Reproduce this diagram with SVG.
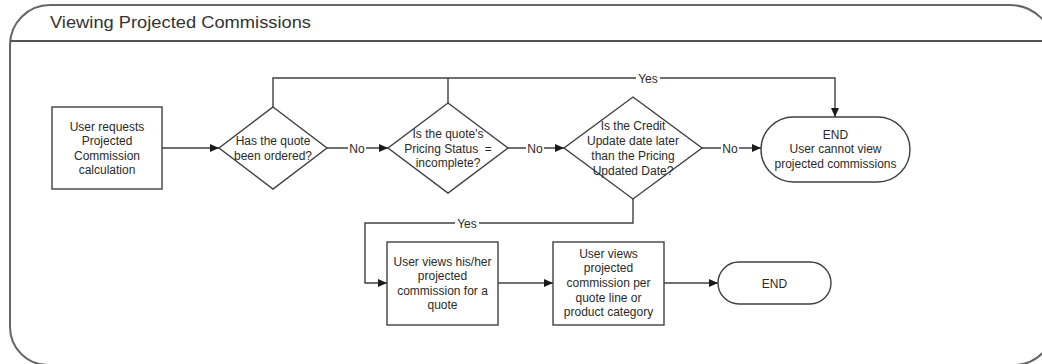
<svg xmlns="http://www.w3.org/2000/svg" width="1042" height="364" viewBox="0 0 1042 364">
<style>
.frame{fill:none;stroke:#666;stroke-width:2}
.shape{fill:#fff;stroke:#404040;stroke-width:1.4}
.conn{fill:none;stroke:#404040;stroke-width:1.4}
text{font-family:"Liberation Sans",Arial,sans-serif;font-size:12px;fill:#2a2a2a;text-anchor:middle}
.title{font-size:17px;text-anchor:start;fill:#333}
.lbl{fill:#fff;stroke:none}
</style>
<defs>
<marker id="arr" markerUnits="userSpaceOnUse" markerWidth="9" markerHeight="8" refX="9" refY="4" orient="auto">
<path d="M0,0 L9,4 L0,8 Z" fill="#1a1a1a"/>
</marker>
</defs>
<rect width="1042" height="364" fill="#fff"/>
<g id="frame">
<path class="frame" d="M10,45 A40,40 0 0 1 50,5 L1010,5 A44,44 0 0 1 1054,49 L1054,325 A40,40 0 0 1 1014,365 L48,365 A38,38 0 0 1 10,327 Z"/>
<line x1="10" y1="41" x2="1042" y2="41" stroke="#555" stroke-width="2"/>
<text class="title" x="50" y="28" textLength="261" lengthAdjust="spacingAndGlyphs">Viewing Projected Commissions</text>
</g>
<g id="connectors">
<path class="conn" d="M162,148 H219" marker-end="url(#arr)"/>
<path class="conn" d="M327,148 H388" marker-end="url(#arr)"/>
<path class="conn" d="M508,148 H564" marker-end="url(#arr)"/>
<path class="conn" d="M702,148 H761" marker-end="url(#arr)"/>
<path class="conn" d="M273,107 V78 H835 V117" marker-end="url(#arr)"/>
<path class="conn" d="M448,103 V78"/>
<path class="conn" d="M633,199 V223 H365 V283 H387" marker-end="url(#arr)"/>
<path class="conn" d="M498,283 H553" marker-end="url(#arr)"/>
<path class="conn" d="M664,283 H718" marker-end="url(#arr)"/>
<rect class="lbl" x="348" y="141" width="18" height="14"/>
<text x="357" y="152.5">No</text>
<rect class="lbl" x="526" y="141" width="18" height="14"/>
<text x="535" y="152.5">No</text>
<rect class="lbl" x="721" y="141" width="18" height="14"/>
<text x="730" y="152.5">No</text>
<rect class="lbl" x="636" y="71" width="24" height="14"/>
<text x="648" y="82.5">Yes</text>
<rect class="lbl" x="455" y="216" width="24" height="14"/>
<text x="467" y="227.5">Yes</text>
</g>
<g id="start">
<rect class="shape" x="52" y="107" width="110" height="82"/>
<text x="107" y="130.5">User requests</text>
<text x="107" y="145">Projected</text>
<text x="107" y="159.5">Commission</text>
<text x="107" y="174">calculation</text>
</g>
<g id="d1">
<polygon class="shape" points="273,107 327,148 273,189 219,148"/>
<text x="273" y="145">Has the quote</text>
<text x="273" y="159.5">been ordered?</text>
</g>
<g id="d2">
<polygon class="shape" points="448,103 508,148 448,193 388,148"/>
<text x="448" y="137.5">Is the quote's</text>
<text x="448" y="152.5" xml:space="preserve">Pricing Status  =</text>
<text x="448" y="167">incomplete?</text>
</g>
<g id="d3">
<polygon class="shape" points="633,97 702,148 633,199 564,148"/>
<text x="633" y="130">Is the Credit</text>
<text x="633" y="145">Update date later</text>
<text x="633" y="160">than the Pricing</text>
<text x="633" y="175">Updated Date?</text>
</g>
<g id="end1">
<rect class="shape" x="761" y="117" width="149" height="65" rx="32.5" ry="32.5"/>
<text x="835.5" y="138.5">END</text>
<text x="835.5" y="153">User cannot view</text>
<text x="835.5" y="168">projected commissions</text>
</g>
<g id="view1">
<rect class="shape" x="387" y="242" width="111" height="83"/>
<text x="442.5" y="265.5">User views his/her</text>
<text x="442.5" y="280">projected</text>
<text x="442.5" y="294.5">commission for a</text>
<text x="442.5" y="309">quote</text>
</g>
<g id="view2">
<rect class="shape" x="553" y="242" width="111" height="83"/>
<text x="608.5" y="257.5">User views</text>
<text x="608.5" y="272">projected</text>
<text x="608.5" y="287">commission per</text>
<text x="608.5" y="301.5">quote line or</text>
<text x="608.5" y="316">product category</text>
</g>
<g id="end2">
<rect class="shape" x="718" y="262" width="113" height="42" rx="21" ry="21"/>
<text x="774.5" y="287.5">END</text>
</g>
</svg>
